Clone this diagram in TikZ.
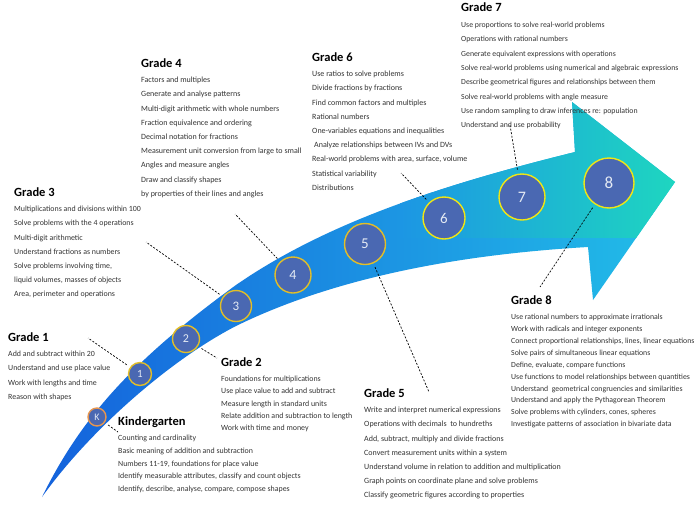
\documentclass[tikz,border=0pt]{standalone}
\usepackage{fontspec}
\setmainfont{Carlito}
\usetikzlibrary{positioning}

\definecolor{arrowblue}{RGB}{20,98,220}
\definecolor{arrowcyan}{RGB}{34,190,232}
\definecolor{arrowmid}{RGB}{28,150,228}
\definecolor{arrowteal}{RGB}{30,214,192}
\definecolor{circblue}{RGB}{74,104,178}
\definecolor{circtext}{RGB}{228,234,244}
\definecolor{ringgold}{RGB}{226,190,40}
\definecolor{ringyellow}{RGB}{240,230,20}
\definecolor{ringorange}{RGB}{230,150,80}
\definecolor{itemgray}{RGB}{52,52,52}

\begin{document}
\begin{tikzpicture}[x=1pt, y=-1pt,
    gradecircle/.style={circle, fill=circblue, draw=ringgold, line width=1.4pt, text=circtext, inner sep=0pt},
    gradetitle/.style={anchor=base west, inner sep=0pt, font=\bfseries\fontsize{12.5}{15}\selectfont},
    gradelist/.style={inner sep=0pt, align=left, text=itemgray},
    leader/.style={line width=0.7pt, dash pattern=on 2pt off 1.6pt, shorten <=4pt}]
\path[fill=white, use as bounding box] (0,0) rectangle (700,506);

% the arrow
\begin{scope}
\clip (42,497) .. controls (80,420) and (130,362) .. (236,285)
      .. controls (330,220) and (450,183) .. (575,152)
      -- (572,102) -- (675,182) -- (593,300) -- (588,247)
      .. controls (450,255) and (330,280) .. (236,326)
      .. controls (170,360) and (90,430) .. (42,497) -- cycle;
\shade[left color=arrowblue, right color=arrowcyan] (42,90) rectangle (675,506);
\shade[left color=arrowmid, right color=arrowteal] (400,90) rectangle (675,237);
\end{scope}

% grade circles
\node[gradecircle, draw=ringorange, minimum size=18pt, font=\fontsize{10}{10}\selectfont] (ck) at (97,417) {K};
\node[gradecircle, minimum size=23pt, font=\fontsize{11}{11}\selectfont] (c1) at (140,374) {1};
\node[gradecircle, minimum size=27pt, font=\fontsize{12}{12}\selectfont] (c2) at (186,339) {2};
\node[gradecircle, minimum size=31pt, font=\fontsize{13}{13}\selectfont] (c3) at (236,306) {3};
\node[gradecircle, minimum size=36pt, font=\fontsize{14}{14}\selectfont] (c4) at (293,275) {4};
\node[gradecircle, minimum size=41pt, font=\fontsize{15}{15}\selectfont] (c5) at (365,244) {5};
\node[gradecircle, draw=ringyellow, minimum size=42pt, font=\fontsize{15}{15}\selectfont] (c6) at (444,218) {6};
\node[gradecircle, draw=ringyellow, minimum size=46pt, font=\fontsize{16}{16}\selectfont] (c7) at (522,197) {7};
\node[gradecircle, draw=ringyellow, minimum size=50pt, font=\fontsize{17}{17}\selectfont] (c8) at (609,183) {8};

% leader lines
\coordinate (kend) at (118,432);
\coordinate (g1end) at (88,338);
\coordinate (g2end) at (217,358);
\coordinate (g3end) at (146,242);
\coordinate (g4end) at (235,214);
\coordinate (g5end) at (429,392);
\coordinate (g6end) at (401,173);
\coordinate (g7end) at (510,125);
\coordinate (g8end) at (540,287);
\draw[leader]
    (ck) edge (kend)
    (c1) edge (g1end)
    (c2) edge (g2end)
    (c3) edge (g3end)
    (c4) edge (g4end)
    (c5) edge (g5end)
    (c6) edge (g6end)
    (c7) edge (g7end)
    (c8) edge (g8end);

% Kindergarten
\node[gradetitle] (ktitle) at (118,425) {Kindergarten};
\node[gradelist, below=10pt of ktitle.base west, anchor=north west, font=\fontsize{7.9}{12.7}\selectfont] (klist) {%
Counting and cardinality\\
Basic meaning of addition and subtraction\\
Numbers 11-19, foundations for place value\\
Identify measurable attributes, classify and count objects\\
Identify, describe, analyse, compare, compose shapes};

% Grade 1
\node[gradetitle] (g1title) at (8,341) {Grade 1};
\node[gradelist, below=10pt of g1title.base west, anchor=north west, font=\fontsize{7.9}{14.2}\selectfont] (g1list) {%
Add and subtract within 20\\
Understand and use place value\\
Work with lengths and time\\
Reason with shapes};

% Grade 2
\node[gradetitle] (g2title) at (221,366) {Grade 2};
\node[gradelist, below=10pt of g2title.base west, anchor=north west, font=\fontsize{7.9}{12.2}\selectfont] (g2list) {%
Foundations for multiplications\\
Use place value to add and subtract\\
Measure length in standard units\\
Relate addition and subtraction to length\\
Work with time and money};

% Grade 3
\node[gradetitle] (g3title) at (14,196) {Grade 3};
\node[gradelist, below=10pt of g3title.base west, anchor=north west, font=\fontsize{7.9}{14.2}\selectfont] (g3list) {%
Multiplications and divisions within 100\\
Solve problems with the 4 operations\\
Multi-digit arithmetic\\
Understand fractions as numbers\\
Solve problems involving time,\\
liquid volumes, masses of objects\\
Area, perimeter and operations};

% Grade 4
\node[gradetitle] (g4title) at (141,67) {Grade 4};
\node[gradelist, below=10pt of g4title.base west, anchor=north west, font=\fontsize{8}{14.2}\selectfont] (g4list) {%
Factors and multiples\\
Generate and analyse patterns\\
Multi-digit arithmetic with whole numbers\\
Fraction equivalence and ordering\\
Decimal notation for fractions\\
Measurement unit conversion from large to small\\
Angles and measure angles\\
Draw and classify shapes\\
by properties of their lines and angles};

% Grade 5
\node[gradetitle] (g5title) at (364,397) {Grade 5};
\node[gradelist, below=10pt of g5title.base west, anchor=north west, font=\fontsize{8}{14.2}\selectfont] (g5list) {%
Write and interpret numerical expressions\\
Operations with decimals\ \ to hundreths\\
Add, subtract, multiply and divide fractions\\
Convert measurement units within a system\\
Understand volume in relation to addition and multiplication\\
Graph points on coordinate plane and solve problems\\
Classify geometric figures according to properties};

% Grade 6
\node[gradetitle] (g6title) at (312,61) {Grade 6};
\node[gradelist, below=10pt of g6title.base west, anchor=north west, font=\fontsize{8}{14.2}\selectfont] (g6list) {%
Use ratios to solve problems\\
Divide fractions by fractions\\
Find common factors and multiples\\
Rational numbers\\
One-variables equations and inequalities\\
\hspace{2pt}Analyze relationships between IVs and DVs\\
Real-world problems with area, surface, volume\\
Statistical variability\\
Distributions};

% Grade 7
\node[gradetitle] (g7title) at (461,12) {Grade 7};
\node[gradelist, below=10pt of g7title.base west, anchor=north west, font=\fontsize{7.8}{14.3}\selectfont] (g7list) {%
Use proportions to solve real-world problems\\
Operations with rational numbers\\
Generate equivalent expressions with operations\\
Solve real-world problems using numerical and algebraic expressions\\
Describe geometrical figures and relationships between them\\
Solve real-world problems with angle measure\\
Use random sampling to draw inferences re: population\\
Understand and use probability};

% Grade 8
\node[gradetitle] (g8title) at (511,304) {Grade 8};
\node[gradelist, below=10pt of g8title.base west, anchor=north west, font=\fontsize{7.8}{11.9}\selectfont] (g8list) {%
Use rational numbers to approximate irrationals\\
Work with radicals and integer exponents\\
Connect proportional relationships, lines, linear equations\\
Solve pairs of simultaneous linear equations\\
Define, evaluate, compare functions\\
Use functions to model relationships between quantities\\
Understand\ \ geometrical congruencies and similarities\\
Understand and apply the Pythagorean Theorem\\
Solve problems with cylinders, cones, spheres\\
Investigate patterns of association in bivariate data};
\end{tikzpicture}
\end{document}
